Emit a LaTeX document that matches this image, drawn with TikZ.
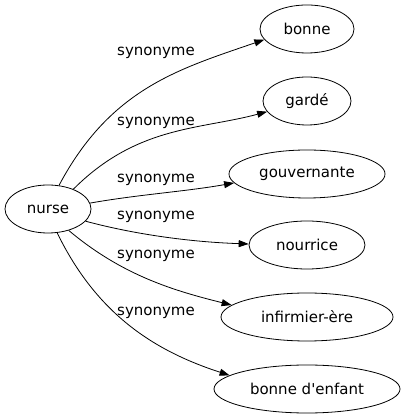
\documentclass[tikz,border=0pt]{standalone}
\usepackage{fontspec}
\newfontfamily\wordfont{DejaVu Sans}
\usetikzlibrary{shapes,arrows.meta,positioning}

\begin{document}
\begin{tikzpicture}[x=1pt, y=1pt, >={Triangle[length=10pt,width=7pt]}, line width=0.8pt]
    % Define style for the nodes
    \tikzstyle{word node} = [ellipse, draw, inner sep=0pt, minimum height=48pt, font=\wordfont\fontsize{15}{18}\selectfont]
    \tikzstyle{syn label} = [inner sep=0pt, font=\wordfont\fontsize{15}{18}\selectfont]

    \useasboundingbox (0,0) rectangle (405,419);

    % Nodes
    \node[word node, minimum width=86pt] (nurse) at (48,210) {nurse};
    \node[word node, minimum width=94pt] (bonne) at (307,390) {bonne};
    \node[word node, minimum width=88pt] (garde) at (307,318) {gardé};
    \node[word node, minimum width=156pt] (gouvernante) at (307,245) {gouvernante};
    \node[word node, minimum width=116pt] (nourrice) at (307,174) {nourrice};
    \node[word node, minimum width=172pt] (infirmiere) at (307,102) {infirmier-ère};
    \node[word node, minimum width=186pt] (bonneenfant) at (307,30) {bonne d'enfant};

    % Labels
    \node[syn label] (syn1) at (156,366) {synonyme};
    \node[syn label] (syn2) at (156,296) {synonyme};
    \node[syn label] (syn3) at (156,239) {synonyme};
    \node[syn label] (syn4) at (156,202) {synonyme};
    \node[syn label] (syn5) at (156,163) {synonyme};
    \node[syn label] (syn6) at (156,106) {synonyme};

    % Arrows
    \draw[->] (nurse.65) .. controls +(62:110) and +(199:90) .. (bonne.194);
    \draw[->] (nurse.38) .. controls +(45:90) and +(195:70) .. (garde.195);
    \draw[->] (nurse.8) .. controls +(10:50) and +(190:50) .. (gouvernante.187);
    \draw[->] (nurse.-18) .. controls +(-15:50) and +(178:60) .. (nourrice.179);
    \draw[->] (nurse.-46) .. controls +(-40:70) and +(166:60) .. (infirmiere.171);
    \draw[->] (nurse.-69) .. controls +(-64:90) and +(162:80) .. (bonneenfant.170);
\end{tikzpicture}
\end{document}
